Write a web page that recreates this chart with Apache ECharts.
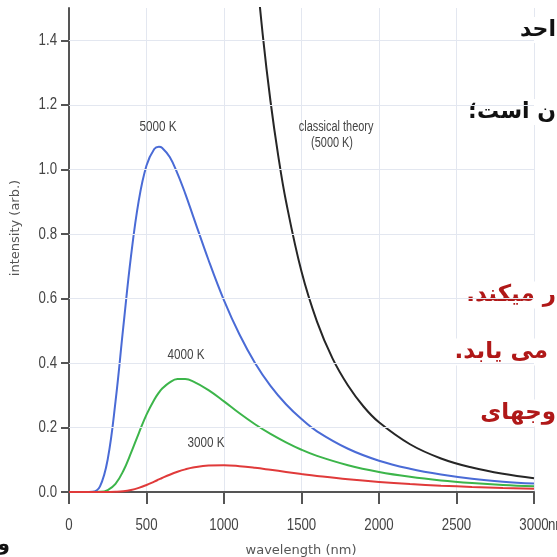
<!DOCTYPE html>
<html><head><meta charset="utf-8">
<script src="https://cdn.jsdelivr.net/npm/echarts@6/dist/echarts.min.js"></script>
<style>html,body{margin:0;padding:0;background:#fff}#c{width:557px;height:557px}</style>
</head><body><div id="c"></div>
<script>
// Wavelength samples (nm)
const wavelengths = [0,100,150,200,250,300,350,400,450,500,550,580,600,650,700,750,800,900,1000,1100,1200,1300,1400,1500,1600,1800,2000,2200,2400,2600,2800,3000];
// Intensity (arb.)
const intensity5000K = [0,0,0.0006,0.0176,0.102,0.280,0.510,0.731,0.903,1.012,1.063,1.070,1.067,1.038,0.987,0.925,0.856,0.719,0.594,0.488,0.400,0.329,0.272,0.226,0.188,0.134,0.097,0.072,0.054,0.041,0.032,0.026];
const intensity4000K = [0,0,0,0.0005,0.006,0.025,0.065,0.121,0.182,0.240,0.286,0.308,0.320,0.340,0.350,0.350,0.343,0.316,0.281,0.244,0.210,0.180,0.154,0.131,0.112,0.083,0.062,0.047,0.036,0.028,0.022,0.018];
const intensity3000K = [0,0,0,0,0.0001,0.0005,0.002,0.006,0.0127,0.0218,0.0323,0.0389,0.0433,0.0536,0.0627,0.0702,0.0759,0.0822,0.0830,0.0800,0.0749,0.0687,0.0623,0.0559,0.0499,0.0394,0.0311,0.0246,0.0196,0.0157,0.0127,0.0104];
const classicalWavelengths = [1150,1200,1250,1300,1350,1400,1500,1600,1700,1800,1900,2000,2200,2400,2600,2800,3000];
const classical5000K = [1.978,1.669,1.417,1.211,1.042,0.901,0.683,0.528,0.414,0.330,0.265,0.216,0.148,0.104,0.0757,0.0563,0.0427];
// Tick labels
const yTicks = [0,0.2,0.4,0.6,0.8,1.0,1.2,1.4];
const yTickLabels = ['0.0','0.2','0.4','0.6','0.8','1.0','1.2','1.4'];
const xTicks = [0,500,1000,1500,2000,2500,3000];
const xTickLabels = ['0','500','1000','1500','2000','2500','3000'];
// Curve annotations [text, wavelength, intensity, size]
const curveLabels = [
  ['5000 K', 574, 1.133, 15],
  ['4000 K', 755, 0.424, 15],
  ['3000 K', 884, 0.152, 15],
  ['classical theory', 1723, 1.130, 14],
  ['(5000 K)', 1697, 1.080, 14]
];
// Overlay Persian text fragments (cropped slide text)
const persianBlack = [['احد', 30, 560], ['ن است؛', 112, 560]];
const persianRed = [['ر میکند.', 295, 560], ['می یابد.', 352, 552], ['وجهای', 413, 560]];

const SANS = 'Liberation Sans, Arial, sans-serif';
const SQUEEZE = 0.78;
const RLM = '\u200F';
const pair = (xs, ys) => xs.map((x, i) => [x, ys[i]]);

const chart = echarts.init(document.getElementById('c'), null, {renderer: 'canvas'});
const lineSeries = (name, xs, ys, color) => ({
  name, type: 'line', data: pair(xs, ys), showSymbol: false, smooth: 0.4,
  lineStyle: {color, width: 2}, itemStyle: {color}, clip: true, animation: false
});
chart.setOption({
  animation: false,
  grid: {left: 69, right: 23, top: 8, bottom: 65},
  xAxis: {
    type: 'value', min: 0, max: 3000, interval: 500,
    axisLine: {lineStyle: {color: '#555', width: 2}},
    axisTick: {show: true, length: 12, lineStyle: {color: '#555', width: 2}},
    axisLabel: {show: false},
    splitLine: {show: true, lineStyle: {color: '#e3e7f0', width: 1}}
  },
  yAxis: {
    type: 'value', min: 0, max: 1.5, interval: 0.1,
    axisLine: {show: true, lineStyle: {color: '#555', width: 2}},
    axisTick: {show: true, length: 8, customValues: yTicks, lineStyle: {color: '#555', width: 2}},
    axisLabel: {show: false},
    splitLine: {show: false}
  },
  series: [
    lineSeries('classical', classicalWavelengths, classical5000K, '#262626'),
    lineSeries('5000 K', wavelengths, intensity5000K, '#4a6bd6'),
    lineSeries('4000 K', wavelengths, intensity4000K, '#3cb54a'),
    lineSeries('3000 K', wavelengths, intensity3000K, '#e03a3a'),
    {type: 'line', data: [], markLine: {silent: true, symbol: 'none', animation: false, label: {show: false},
      lineStyle: {color: '#e3e7f0', width: 1, type: 'solid'},
      data: yTicks.filter(v => v > 0).map(v => ({yAxis: v}))}}
  ]
});

const g = [];
const narrowText = (t, x, y, fs, align, fill) => ({type: 'text', x, y, scaleX: SQUEEZE,
  style: {text: t, fill: fill || '#444', fontSize: fs, fontFamily: SANS, align, verticalAlign: 'middle'}});
yTicks.forEach((v, i) => {
  const p = chart.convertToPixel({gridIndex: 0}, [0, v]);
  g.push(narrowText(yTickLabels[i], p[0] - 12, p[1], 17, 'right'));
});
xTicks.forEach((v, i) => {
  const p = chart.convertToPixel({gridIndex: 0}, [v, 0]);
  g.push(narrowText(xTickLabels[i], p[0], p[1] + 33, 17, 'center'));
});
const pEnd = chart.convertToPixel({gridIndex: 0}, [3000, 0]);
g.push(narrowText('nm', pEnd[0] + 14, pEnd[1] + 33, 17, 'left'));
curveLabels.forEach(([t, x, y, fs]) => {
  const p = chart.convertToPixel({gridIndex: 0}, [x, y]);
  g.push(narrowText(t, p[0], p[1], fs, 'center'));
});
g.push({type: 'text', x: 16, y: 228, rotation: Math.PI / 2,
  style: {text: 'intensity (arb.)', fill: '#555', fontSize: 13, fontFamily: 'DejaVu Sans, sans-serif', align: 'center', verticalAlign: 'middle'}});
g.push({type: 'text', x: 301, y: 551, style: {text: 'wavelength (nm)', fill: '#555', fontSize: 13, fontFamily: 'DejaVu Sans, sans-serif', align: 'center', verticalAlign: 'middle'}});
persianBlack.forEach(([t, y, x]) => g.push({type: 'text', x, y, style: {text: RLM + t + RLM, fill: '#111', fontSize: 22, fontWeight: 'bold', fontFamily: 'DejaVu Sans, sans-serif', align: 'right', verticalAlign: 'middle', backgroundColor: '#fff', padding: [2, 4]}}));
persianRed.forEach(([t, y, x]) => g.push({type: 'text', x, y, style: {text: RLM + t + RLM, fill: '#b01818', fontSize: 23, fontWeight: 'bold', fontFamily: 'DejaVu Sans, sans-serif', align: 'right', verticalAlign: 'middle', backgroundColor: '#fff', padding: [2, 4]}}));
g.push({type: 'text', x: 10, y: 545, style: {text: 'و', fill: '#111', fontSize: 20, fontWeight: 'bold', fontFamily: 'DejaVu Sans, sans-serif', align: 'right', verticalAlign: 'middle'}});
chart.setOption({graphic: g});
</script></body></html>
